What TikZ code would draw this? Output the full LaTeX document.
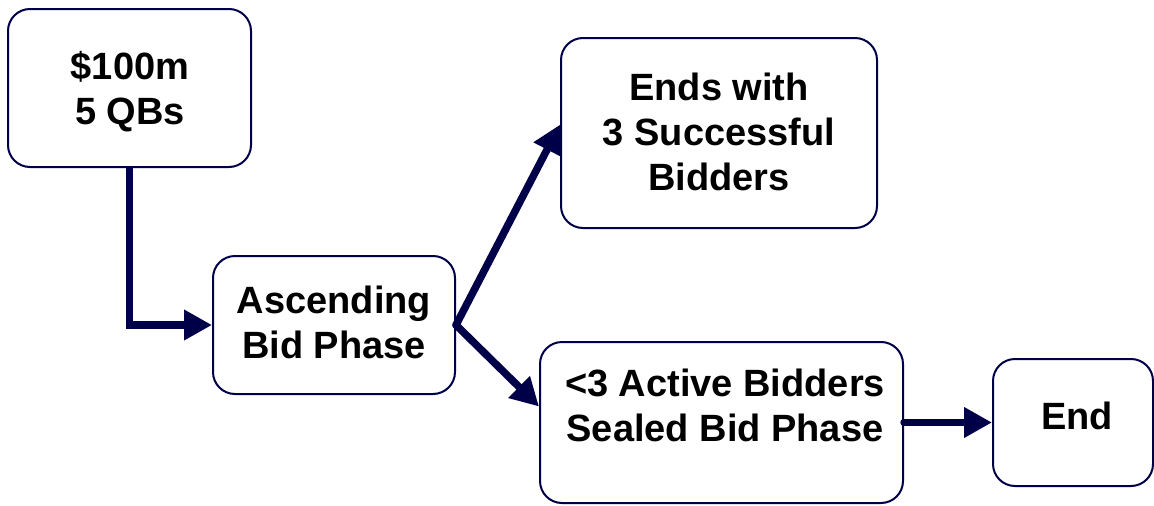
\documentclass[tikz,border=0pt]{standalone}
\usepackage{fontspec}
\setmainfont{Liberation Sans}
\usetikzlibrary{arrows.meta}
\definecolor{navy}{RGB}{0,0,72}
\tikzset{
  box/.style={draw=navy, line width=2pt, rounded corners=22pt, fill=white, inner sep=0pt},
  lbl/.style={align=center, font=\fontsize{38pt}{45pt}\selectfont\bfseries, inner sep=0pt},
  arr/.style={draw=navy, line width=7.5pt, line cap=round, -{Triangle[length=28pt,width=29pt]}},
}
\begin{document}
\begin{tikzpicture}[x=1pt,y=-1pt]
\useasboundingbox (0,0) rectangle (1154,506);
\node[box, minimum width=243pt, minimum height=158pt] (b1) at (129.5,88) {};
\node[box, minimum width=242pt, minimum height=138pt] (b2) at (334,325) {};
\node[box, minimum width=316pt, minimum height=190pt] (b3) at (719,133) {};
\node[box, minimum width=363pt, minimum height=161pt] (b4) at (721.5,422.5) {};
\node[box, minimum width=160pt, minimum height=127pt] (b5) at (1073,422.5) {};
\node[lbl] (t1) at (130,92) {\$100m\\5 QBs};
\node[lbl] (t2) at (334,322) {Ascending\\Bid Phase};
\node[lbl] (t3) at (719,132) {Ends with\\3 Successful\\Bidders};
\node[lbl] (t4) at (725,405) {<3 Active Bidders\\Sealed Bid Phase};
\node[lbl] (t5) at (1077,416) {End};
\draw[arr, line cap=butt] (b1.south) |- (b2.west);
\draw[arr] (b2.east) -- (b3.177);
\draw[arr] (b2.east) -- (b4.175);
\draw[arr] (b4.east) -- (b5.west);
\end{tikzpicture}
\end{document}
